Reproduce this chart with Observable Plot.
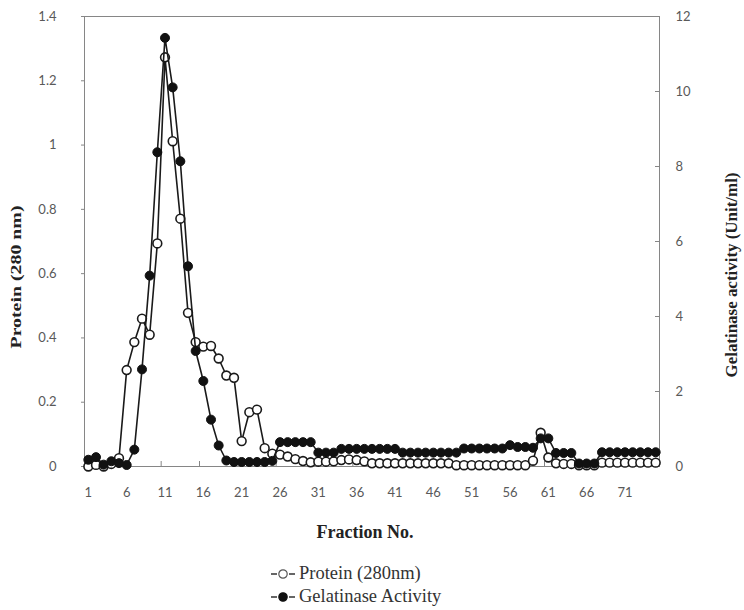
<!DOCTYPE html>
<html><head><meta charset="utf-8">
<script src="https://cdn.jsdelivr.net/npm/d3@7"></script>
<script src="https://cdn.jsdelivr.net/npm/@observablehq/plot@0.6"></script>
<style>
body{margin:0;background:#fff;}
#wrap{position:relative;width:744px;height:610px;overflow:hidden;}
#legend{position:absolute;left:270px;top:562px;font-family:"Liberation Serif",serif;font-size:18.5px;color:#333;line-height:23px;}
#legend div{display:flex;align-items:center;white-space:nowrap;}
#legend svg{margin-right:2px;}
</style></head><body><div id="wrap"><div id="chart"></div><div id="legend"></div></div>
<script>
const fractions = [1,2,3,4,5,6,7,8,9,10,11,12,13,14,15,16,17,18,19,20,21,22,23,24,25,26,27,28,29,30,31,32,33,34,35,36,37,38,39,40,41,42,43,44,45,46,47,48,49,50,51,52,53,54,55,56,57,58,59,60,61,62,63,64,65,66,67,68,69,70,71,72,73,74,75];
const protein = [0.0,0.005,0.0,0.008,0.026,0.30,0.387,0.46,0.41,0.694,1.273,1.012,0.771,0.478,0.387,0.373,0.375,0.336,0.283,0.276,0.079,0.169,0.177,0.057,0.040,0.037,0.031,0.023,0.017,0.013,0.015,0.015,0.016,0.02,0.022,0.02,0.016,0.01,0.01,0.01,0.01,0.01,0.01,0.01,0.01,0.01,0.01,0.01,0.004,0.004,0.004,0.004,0.004,0.004,0.004,0.004,0.004,0.004,0.018,0.105,0.028,0.01,0.008,0.008,0.004,0.004,0.004,0.012,0.012,0.012,0.012,0.012,0.012,0.012,0.012];
const activity = [0.18,0.25,0.05,0.14,0.09,0.04,0.45,2.59,5.09,8.38,11.43,10.11,8.14,5.34,3.08,2.28,1.25,0.56,0.16,0.12,0.12,0.12,0.12,0.12,0.15,0.65,0.65,0.65,0.65,0.65,0.37,0.37,0.37,0.47,0.47,0.47,0.47,0.47,0.47,0.47,0.47,0.37,0.37,0.37,0.37,0.37,0.37,0.37,0.37,0.48,0.48,0.48,0.48,0.48,0.48,0.57,0.52,0.52,0.50,0.75,0.75,0.36,0.36,0.36,0.08,0.08,0.08,0.38,0.38,0.38,0.38,0.38,0.38,0.38,0.38];
const leftTicks = [0,0.2,0.4,0.6,0.8,1,1.2,1.4];
const rightTicks = [0,2,4,6,8,10,12];
const xLabelTicks = [1,6,11,16,21,26,31,36,41,46,51,56,61,66,71];
const xTickMarks = [0.5,5.5,10.5,15.5,20.5,25.5,30.5,35.5,40.5,45.5,50.5,55.5,60.5,65.5,70.5,75.5];
const xTitle = "Fraction No.";
const yLeftTitle = "Protein (280 nm)";
const yRightTitle = "Gelatinase activity (Unit/ml)";
const legendLabels = ["Protein (280nm)", "Gelatinase Activity"];

const leftMax = 1.4, rightMax = 12;
const k = leftMax / rightMax;
const rows = fractions.map((f, i) => ({f, p: protein[i], a: activity[i]}));

const axisGray = "#868686";
const ink = "#1a1a1a";
const serif = "'Liberation Serif', 'Times New Roman', serif";

const chart = Plot.plot({
  width: 744, height: 555,
  marginLeft: 84, marginRight: 85, marginTop: 16, marginBottom: 89,
  x: {domain: [0.5, 75.5]},
  y: {domain: [0, leftMax]},
  style: {fontFamily: "Lato, sans-serif", fontSize: "13px", color: "#595959", background: "white"},
  marks: [
    Plot.frame({stroke: axisGray}),
    Plot.axisY(leftTicks, {anchor: "left", tickSize: 3, tickPadding: 25, tickFormat: d => String(d), stroke: axisGray, label: null}),
    Plot.axisY(rightTicks.map(t => t * k), {anchor: "right", tickSize: -5, tickPadding: 21, tickFormat: d => String(Math.round(d / k)), stroke: axisGray, label: null}),
    Plot.axisX(xTickMarks, {anchor: "bottom", tickSize: -5, tickFormat: () => "", stroke: axisGray, label: null}),
    Plot.axisX(xLabelTicks, {anchor: "bottom", tickSize: 0, tickPadding: 21, tickFormat: d => String(d), label: null}),
    Plot.line(rows, {x: "f", y: "p", stroke: ink, strokeWidth: 1.6}),
    Plot.dot(rows, {x: "f", y: "p", r: 4.4, fill: "white", stroke: ink, strokeWidth: 1.6}),
    Plot.line(rows, {x: "f", y: d => d.a * k, stroke: ink, strokeWidth: 1.6}),
    Plot.dot(rows, {x: "f", y: d => d.a * k, r: 4.5, fill: "#111", stroke: "#111", strokeWidth: 1}),
    Plot.text([xTitle], {text: d => d, frameAnchor: "bottom", dx: -7, dy: 71, fontFamily: serif, fontWeight: "bold", fontSize: 18, fill: "#222"}),
    Plot.text([yLeftTitle], {text: d => d, frameAnchor: "left", textAnchor: "start", dx: -68, dy: 107, rotate: -90, fontFamily: serif, fontWeight: "bold", fontSize: 14, fill: "#222"}),
    Plot.text([yRightTitle], {text: d => d, frameAnchor: "right", textAnchor: "start", dx: 72, dy: 136, rotate: -90, fontFamily: serif, fontWeight: "bold", fontSize: 16, fill: "#222"})
  ]
});
document.getElementById("chart").appendChild(chart);

// stretch rotated titles to the reference lengths
d3.select(chart).selectAll("text").each(function() {
  const t = this.textContent;
  if (t === yLeftTitle) d3.select(this).attr("textLength", 143).attr("lengthAdjust", "spacingAndGlyphs");
  if (t === yRightTitle) d3.select(this).attr("textLength", 205).attr("lengthAdjust", "spacingAndGlyphs");
});

// legend
const legend = d3.select("#legend");
legendLabels.forEach((lab, i) => {
  const row = legend.append("div");
  const s = row.append("svg").attr("width", 27).attr("height", 14);
  s.append("line").attr("x1", 1).attr("x2", 7).attr("y1", 7).attr("y2", 7).attr("stroke", "#333").attr("stroke-width", 1.5);
  s.append("line").attr("x1", 19).attr("x2", 25).attr("y1", 7).attr("y2", 7).attr("stroke", "#333").attr("stroke-width", 1.5);
  s.append("circle").attr("cx", 13).attr("cy", 7).attr("r", 4.2)
    .attr("fill", i === 0 ? "white" : "#111").attr("stroke", i === 0 ? "#555" : "#111").attr("stroke-width", 1.2);
  row.append("span").text(lab);
});
</script>
</body></html>
